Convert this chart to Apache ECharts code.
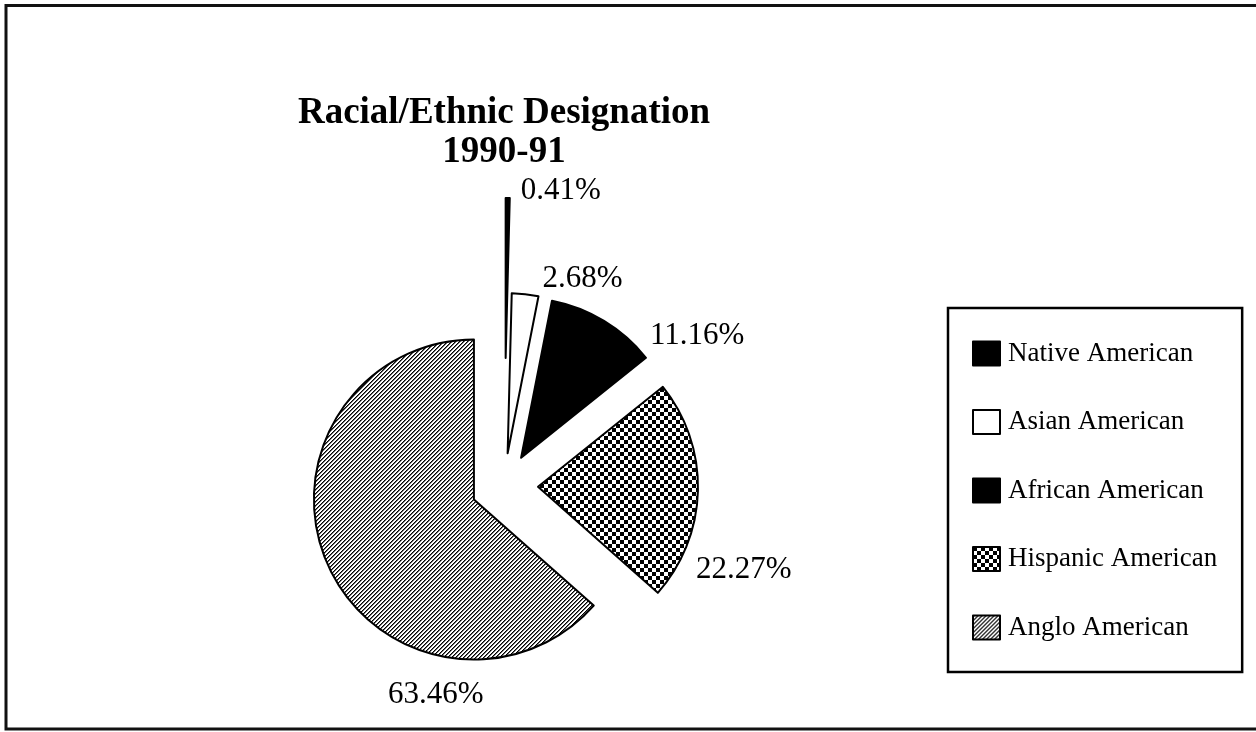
<!DOCTYPE html>
<html>
<head>
<meta charset="utf-8">
<script src="https://cdn.jsdelivr.net/npm/echarts@6/dist/echarts.min.js"></script>
<style>
  html, body { margin: 0; padding: 0; background: #ffffff; }
  #chart { width: 1256px; height: 732px; }
</style>
</head>
<body>
<div id="chart"></div>
<script>
// Enrolment by racial/ethnic designation, 1990-91 (percent of total)
const categories = ['Native American', 'Asian American', 'African American', 'Hispanic American', 'Anglo American'];
const shares = [0.41, 2.68, 11.16, 22.27, 63.46];
const titleLines = ['Racial/Ethnic Designation', '1990-91'];

const SERIF = "'Liberation Serif', 'Times New Roman', Times, serif";
const PIE_CENTER = [504, 486];
const PIE_RADIUS = 160;

// small repeating tiles used as fill patterns
function makeTile(size, paint) {
  const c = document.createElement('canvas');
  c.width = size; c.height = size;
  const g = c.getContext('2d');
  g.fillStyle = '#ffffff';
  g.fillRect(0, 0, size, size);
  paint(g, size);
  return c;
}
const checkerTile = makeTile(8, (g) => {
  g.fillStyle = '#000000';
  g.fillRect(0, 0, 4, 4);
  g.fillRect(4, 4, 4, 4);
});
const hatchTile = makeTile(4, (g, s) => {
  for (let x = 0; x < s; x++) {
    for (let y = 0; y < s; y++) {
      const k = (x + y) % s;
      if (k === 0) { g.fillStyle = '#000000'; g.fillRect(x, y, 1, 1); }
      else if (k === 1) { g.fillStyle = '#6a6a6a'; g.fillRect(x, y, 1, 1); }
    }
  }
});

const fills = {
  'Native American': '#000000',
  'Asian American': '#ffffff',
  'African American': '#000000',
  'Hispanic American': { image: checkerTile, repeat: 'repeat' },
  'Anglo American': { image: hatchTile, repeat: 'repeat' }
};

// distance each wedge is pulled away from the pie centre
const explode = {
  'Native American': 128,
  'Asian American': 33,
  'African American': 33,
  'Hispanic American': 34,
  'Anglo American': 33
};

// where each value label sits, relative to its wedge's bounding box
const labelPlace = {
  'Native American':   (r) => ({ x: r.x + r.width + 10, y: r.y - 6, align: 'left' }),
  'Asian American':    (r) => ({ x: r.x + r.width + 3, y: r.y - 13, align: 'left' }),
  'African American':  (r) => ({ x: r.x + r.width + 3, y: r.y + 36, align: 'left' }),
  'Hispanic American': (r) => ({ x: r.x + r.width - 3, y: r.y + r.height - 24, align: 'left' }),
  'Anglo American':    (r) => ({ x: r.x + r.width / 2 - 18, y: r.y + r.height + 34, align: 'center' })
};

const wedgeStyle = (name) => ({ color: fills[name], borderColor: '#000000', borderWidth: 2 });
const hiddenStyle = { color: 'rgba(0,0,0,0)', borderWidth: 0 };

// one pie layer per group: each layer shows only its own wedge, pushed outward
// along the wedge's bisector so the pie reads as exploded
const total = shares.reduce((a, b) => a + b, 0);
let before = 0;
const series = categories.map((own, i) => {
  const mid = (before + shares[i] / 2) / total * 2 * Math.PI;
  before += shares[i];
  const d = explode[own];
  return {
    type: 'pie',
    name: own,
    center: [PIE_CENTER[0] + d * Math.sin(mid), PIE_CENTER[1] - d * Math.cos(mid)],
    radius: PIE_RADIUS,
    startAngle: 90,
    clockwise: true,
    animation: false,
    silent: true,
    avoidLabelOverlap: false,
    minShowLabelAngle: 0,
    emphasis: { disabled: true },
    label: {
      show: true,
      position: 'outside',
      formatter: '{c}%',
      fontFamily: SERIF,
      fontSize: 31,
      color: '#000000'
    },
    labelLine: { show: false },
    labelLayout: (p) => Object.assign({ verticalAlign: 'middle' }, labelPlace[categories[p.dataIndex]](p.rect)),
    data: categories.map((name, j) => ({
      name: name,
      value: shares[j],
      itemStyle: name === own ? wedgeStyle(name) : hiddenStyle,
      label: { show: name === own }
    }))
  };
});

const chart = echarts.init(document.getElementById('chart'), null, { renderer: 'canvas' });
chart.setOption({
  backgroundColor: '#ffffff',
  animation: false,
  title: {
    text: titleLines.join('\n'),
    left: 499,
    top: 89,
    textAlign: 'center',
    textStyle: {
      fontFamily: SERIF,
      fontWeight: 'bold',
      fontSize: 37,
      lineHeight: 39,
      color: '#000000'
    }
  },
  legend: {
    orient: 'vertical',
    left: 948,
    top: 308,
    padding: [32, 25, 31, 24],
    itemGap: 41.5,
    itemWidth: 27,
    itemHeight: 24,
    icon: 'rect',
    selectedMode: false,
    borderColor: '#000000',
    borderWidth: 2.5,
    textStyle: { fontFamily: SERIF, fontSize: 27, lineHeight: 24, color: '#000000', padding: [0, 0, 0, 3] },
    data: categories.map((name) => ({ name: name, itemStyle: wedgeStyle(name) }))
  },
  graphic: [{
    type: 'rect',
    silent: true,
    z: -10,
    shape: { x: 6, y: 5.5, width: 1300, height: 723.5 },
    style: { fill: 'none', stroke: '#111111', lineWidth: 3 }
  }],
  series: series
});
</script>
</body>
</html>
